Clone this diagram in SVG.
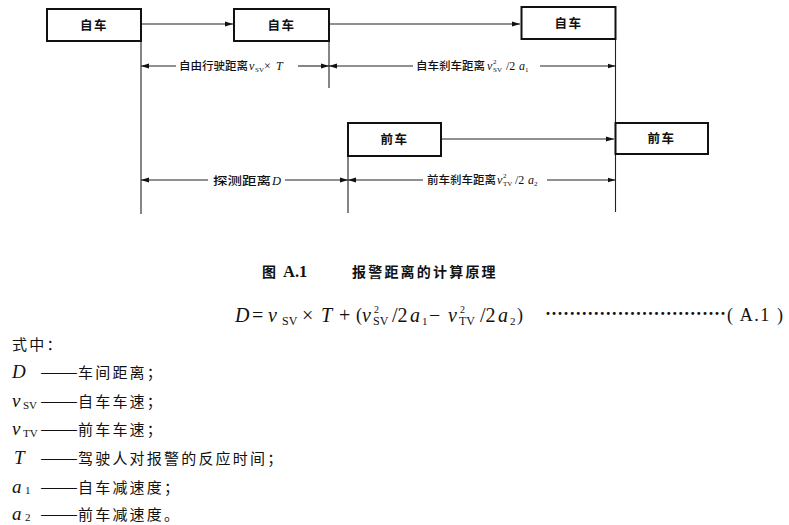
<svg xmlns="http://www.w3.org/2000/svg" width="789" height="525" viewBox="0 0 789 525">
<defs>
<marker id="ah" markerUnits="userSpaceOnUse" markerWidth="9" markerHeight="6" refX="8" refY="3" orient="auto">
<path d="M0,0.6 L8,3 L0,5.4 z" fill="#111"/>
</marker>
<style>
.box{fill:#fff;stroke:#111;stroke-width:2}
.bt{font-family:"Noto Sans CJK SC","Noto Sans",sans-serif;font-size:12.5px;font-weight:bold;fill:#111;letter-spacing:1.5px}
.ln{stroke:#222;stroke-width:1.1;fill:none}
.ar{stroke:#222;stroke-width:1.1;fill:none;marker-end:url(#ah)}
.lb{font-family:"Noto Sans CJK SC","Noto Sans",sans-serif;font-size:11.5px;font-weight:500;fill:#111}
.m{font-family:"Liberation Serif",serif;fill:#111}
.i{font-style:italic}
.cj{font-family:"Noto Sans CJK SC","Noto Sans",sans-serif;font-size:15px;fill:#111;letter-spacing:2.2px}
.dash{font-family:"Noto Sans CJK SC","Noto Sans",sans-serif;font-size:15px;fill:#111}
.cap{font-family:"Noto Sans CJK SC","Noto Sans",sans-serif;font-size:14px;font-weight:bold;fill:#111;letter-spacing:2.2px}
</style>
</defs>
<rect width="789" height="525" fill="#fff"/>

<g id="connectors">
<line class="ar" x1="141" y1="24" x2="233" y2="24"/>
<line class="ar" x1="329" y1="24" x2="520" y2="24"/>
<line class="ar" x1="441" y1="139" x2="614" y2="139"/>
<line class="ln" x1="141" y1="41" x2="141" y2="214"/>
<line class="ln" x1="329" y1="41" x2="329" y2="88"/>
<line class="ln" x1="348" y1="156" x2="348" y2="213"/>
<line class="ln" x1="615.5" y1="39" x2="615.5" y2="212"/>
<line class="ar" x1="176" y1="66" x2="141" y2="66"/>
<line class="ar" x1="298" y1="66" x2="329" y2="66"/>
<line class="ar" x1="413" y1="66" x2="329" y2="66"/>
<line class="ar" x1="540" y1="66" x2="615.5" y2="66"/>
<line class="ar" x1="208" y1="180" x2="141" y2="180"/>
<line class="ar" x1="285" y1="180" x2="348" y2="180"/>
<line class="ar" x1="423" y1="180" x2="348" y2="180"/>
<line class="ar" x1="547" y1="180" x2="615.5" y2="180"/>
</g>

<g id="node-sv1"><rect class="box" x="47" y="9" width="94" height="32"/><text class="bt" x="94" y="29.5" text-anchor="middle">自车</text></g>
<g id="node-sv2"><rect class="box" x="234" y="9" width="95" height="32"/><text class="bt" x="281.5" y="29.5" text-anchor="middle">自车</text></g>
<g id="node-sv3"><rect class="box" x="521.5" y="7" width="94" height="32"/><text class="bt" x="568.5" y="27.5" text-anchor="middle">自车</text></g>
<g id="node-tv1"><rect class="box" x="348" y="123" width="93" height="33"/><text class="bt" x="394.5" y="144" text-anchor="middle">前车</text></g>
<g id="node-tv2"><rect class="box" x="615.5" y="123" width="92.5" height="31"/><text class="bt" x="661.5" y="143" text-anchor="middle">前车</text></g>

<g id="labels">
<text class="lb" x="179" y="70">自由行驶距离</text>
<text class="m i" x="249" y="70" font-size="12">v</text><text class="m" x="255" y="72" font-size="7">SV</text>
<text class="m" x="264" y="70" font-size="12">×</text><text class="m i" x="276" y="70" font-size="12">T</text>

<text class="lb" x="416" y="70">自车刹车距离</text>
<text class="m i" x="487" y="70" font-size="12">v</text><text class="m" x="493" y="64" font-size="7">2</text><text class="m" x="493" y="72" font-size="7">SV</text>
<text class="m" x="506" y="70" font-size="12">/2</text><text class="m i" x="519" y="70" font-size="12">a</text><text class="m" x="525" y="72" font-size="7">1</text>

<text class="lb" x="213" y="184.5" font-size="14" textLength="58" lengthAdjust="spacingAndGlyphs">探测距离</text><text class="m i" x="272" y="184.5" font-size="12.5">D</text>

<text class="lb" x="427" y="184">前车刹车距离</text>
<text class="m i" x="497" y="184" font-size="12">v</text><text class="m" x="503" y="178" font-size="7">2</text><text class="m" x="503" y="186" font-size="7">TV</text>
<text class="m" x="515" y="184" font-size="12">/2</text><text class="m i" x="528" y="184" font-size="12">a</text><text class="m" x="534" y="186" font-size="7">2</text>
</g>

<g id="caption">
<text class="cap" x="262" y="277">图</text>
<text class="m" x="283" y="277" font-size="16.5" font-weight="bold">A.1</text>
<text class="cap" x="352" y="277">报警距离的计算原理</text>
</g>

<g id="formula">
<text class="m i" x="235" y="322" font-size="20">D</text>
<text class="m" x="252" y="322" font-size="20">=</text>
<text class="m i" x="268" y="322" font-size="20">v</text>
<text class="m" x="282" y="325" font-size="12">SV</text>
<text class="m" x="302" y="322" font-size="20">×</text>
<text class="m i" x="321" y="322" font-size="20">T</text>
<text class="m" x="339" y="322" font-size="20">+</text>
<text class="m" x="356" y="321" font-size="18">(</text>
<text class="m i" x="362" y="322" font-size="20">v</text>
<text class="m" x="374" y="313" font-size="10">2</text>
<text class="m" x="373" y="325" font-size="12">SV</text>
<text class="m" x="392" y="322" font-size="20">/2</text>
<text class="m i" x="410" y="322" font-size="20">a</text>
<text class="m" x="422" y="325" font-size="11">1</text>
<text class="m" x="429" y="322" font-size="20">−</text>
<text class="m i" x="448" y="322" font-size="20">v</text>
<text class="m" x="460" y="313" font-size="10">2</text>
<text class="m" x="459" y="325" font-size="12">TV</text>
<text class="m" x="480" y="322" font-size="20">/2</text>
<text class="m i" x="498" y="322" font-size="20">a</text>
<text class="m" x="510" y="325" font-size="11">2</text>
<text class="m" x="517" y="321" font-size="18">)</text>
<text class="m" x="545" y="320" font-size="18" font-weight="bold" textLength="181" lengthAdjust="spacing">······························</text>
<text class="m" x="727" y="321" font-size="18" textLength="56" lengthAdjust="spacing">( A.1 )</text>
</g>

<g id="legend">
<text class="cj" x="12" y="350">式中：</text>
<text class="m i" x="12" y="378" font-size="19">D</text>
<text class="dash" x="40" y="378" textLength="38" lengthAdjust="spacingAndGlyphs">——</text>
<text class="cj" x="78" y="378">车间距离；</text>
<text class="m i" x="12" y="407" font-size="19">v</text><text class="m" x="23" y="409" font-size="11">SV</text>
<text class="dash" x="40" y="407" textLength="38" lengthAdjust="spacingAndGlyphs">——</text>
<text class="cj" x="78" y="407">自车车速；</text>
<text class="m i" x="12" y="435" font-size="19">v</text><text class="m" x="23" y="437" font-size="11">TV</text>
<text class="dash" x="40" y="435" textLength="38" lengthAdjust="spacingAndGlyphs">——</text>
<text class="cj" x="78" y="435">前车车速；</text>
<text class="m i" x="14" y="464" font-size="19">T</text>
<text class="dash" x="40" y="464" textLength="38" lengthAdjust="spacingAndGlyphs">——</text>
<text class="cj" x="78" y="464">驾驶人对报警的反应时间；</text>
<text class="m i" x="12" y="493" font-size="19">a</text><text class="m" x="25" y="494" font-size="11">1</text>
<text class="dash" x="40" y="493" textLength="38" lengthAdjust="spacingAndGlyphs">——</text>
<text class="cj" x="78" y="493">自车减速度；</text>
<text class="m i" x="12" y="520" font-size="19">a</text><text class="m" x="25" y="521" font-size="11">2</text>
<text class="dash" x="40" y="520" textLength="38" lengthAdjust="spacingAndGlyphs">——</text>
<text class="cj" x="78" y="520">前车减速度。</text>
</g>
</svg>
